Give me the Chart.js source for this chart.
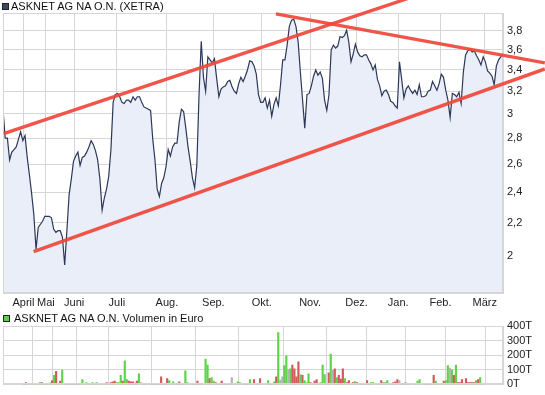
<!DOCTYPE html>
<html>
<head>
<meta charset="utf-8">
<title>ASKNET AG NA O.N. (XETRA)</title>
<script src="https://cdn.jsdelivr.net/npm/chart.js@4.4.1/dist/chart.umd.min.js"></script>
<style>
  body { margin: 0; background: #fff; }
  #wrap { position: relative; width: 545px; height: 395px; overflow: hidden; font-family: "Liberation Sans", Arial, sans-serif; }
  #price-chart { position: absolute; left: 0; top: 0; }
  #volume-chart { position: absolute; left: 0; top: 310px; }
  .box { position: absolute; width: 5px; height: 5px; border: 1px solid #222; }
  .label { position: absolute; font-size: 11px; line-height: 13px; color: #111; white-space: nowrap; }
</style>
</head>
<body>
<div id="wrap">
  <canvas id="price-chart" width="545" height="310"></canvas>
  <canvas id="volume-chart" width="545" height="85"></canvas>
  <div class="box" style="left:2px; top:3px; background:#3d4663;"></div>
  <div class="label" style="left:11px; top:0px;">ASKNET AG NA O.N. (XETRA)</div>
  <div class="box" style="left:3px; top:315px; background:#5cd048;"></div>
  <div class="label" style="left:14px; top:312px;">ASKNET AG NA O.N. Volumen in Euro</div>
</div>
<script>
// Month labels and the trading day (index) where each month starts
const monthLabels = ["April", "Mai", "Juni", "Juli", "Aug.", "Sep.", "Okt.", "Nov.", "Dez.", "Jan.", "Feb.", "März"];
const monthTickDays = [9.3, 19.5, 32.3, 51.7, 74.4, 95.5, 117.5, 139.4, 160.5, 179.4, 198.6, 218.7];

// Price axis (log scale) and volume axis ticks
const priceTicks = [2, 2.2, 2.4, 2.6, 2.8, 3, 3.2, 3.4, 3.6, 3.8];
const volumeTicks = [0, 100, 200, 300, 400];

// Daily closing prices (EUR), one per trading day
const closePrices = [
  3.04, 2.80, 2.80, 2.63, 2.69, 2.71, 2.73, 2.79, 2.85, 2.78,
  2.82, 2.65, 2.52, 2.39, 2.25, 2.04, 2.17, 2.19, 2.21, 2.24,
  2.24, 2.24, 2.23, 2.16, 2.14, 2.15, 2.15, 2.11, 1.95, 2.15,
  2.38, 2.49, 2.62, 2.66, 2.69, 2.59, 2.65, 2.66, 2.69, 2.73,
  2.78, 2.75, 2.70, 2.63, 2.49, 2.28, 2.36, 2.42, 2.51, 2.71,
  3.10, 3.17, 3.18, 3.15, 3.10, 3.09, 3.12, 3.12, 3.10, 3.15,
  3.12, 3.15, 3.15, 3.10, 3.06, 3.05, 3.04, 3.03, 2.79, 2.63,
  2.42, 2.37, 2.46, 2.50, 2.58, 2.71, 2.66, 2.73, 2.76, 2.76,
  2.93, 3.04, 3.02, 2.88, 2.73, 2.62, 2.50, 2.43, 2.59, 3.17,
  3.69, 3.33, 3.20, 3.53, 3.50, 3.47, 3.51, 3.32, 3.15, 3.22,
  3.24, 3.25, 3.29, 3.30, 3.24, 3.20, 3.18, 3.27, 3.33, 3.29,
  3.34, 3.40, 3.49, 3.48, 3.44, 3.36, 3.17, 3.10, 3.10, 3.14,
  3.05, 3.12, 2.98, 3.08, 3.14, 3.07, 3.26, 3.50, 3.50, 3.65,
  3.85, 3.92, 3.93, 3.85, 3.68, 3.38, 3.12, 2.88, 3.17, 3.18,
  3.25, 3.34, 3.40, 3.35, 3.38, 3.32, 3.12, 3.03, 3.17, 3.60,
  3.65, 3.62, 3.64, 3.74, 3.73, 3.75, 3.81, 3.68, 3.48, 3.56,
  3.66, 3.58, 3.54, 3.53, 3.55, 3.55, 3.50, 3.46, 3.40, 3.45,
  3.31, 3.25, 3.16, 3.20, 3.21, 3.17, 3.11, 3.10, 3.07, 3.05,
  3.48, 3.31, 3.14, 3.22, 3.25, 3.21, 3.18, 3.21, 3.17, 3.26,
  3.15, 3.15, 3.16, 3.20, 3.21, 3.29, 3.25, 3.21, 3.27, 3.36,
  3.33, 3.21, 3.12, 2.97, 3.18, 3.17, 3.15, 3.19, 3.09, 3.38,
  3.55, 3.59, 3.61, 3.58, 3.59, 3.54, 3.50, 3.45, 3.53, 3.48,
  3.39, 3.37, 3.34, 3.26, 3.44, 3.50, 3.53, 3.57
];

// Daily volume in thousand Euro (T)
const volumeT = [
  0, 13, 0, 7, 7, 7, 7, 7, 13, 13,
  0, 7, 7, 9, 27, 62, 89, 7, 22, 98,
  7, 0, 7, 7, 7, 0, 0, 7, 7, 33,
  7, 13, 0, 7, 13, 7, 13, 7, 7, 7,
  7, 13, 7, 13, 18, 22, 13, 13, 62, 22,
  162, 33, 22, 18, 18, 9, 22, 73, 13, 7,
  0, 7, 7, 0, 7, 7, 0, 7, 51, 7,
  0, 40, 27, 0, 18, 0, 0, 18, 0, 0,
  93, 13, 0, 7, 7, 7, 22, 7, 7, 7,
  173, 133, 40, 47, 22, 13, 7, 7, 22, 0,
  0, 0, 0, 47, 0, 7, 18, 13, 7, 0,
  0, 0, 33, 0, 33, 7, 7, 40, 7, 7,
  7, 27, 7, 7, 18, 51, 355, 29, 51, 129,
  195, 100, 107, 133, 107, 51, 155, 67, 62, 27,
  13, 73, 13, 7, 22, 33, 7, 13, 133, 67,
  7, 80, 207, 96, 107, 47, 62, 36, 107, 40,
  13, 27, 7, 13, 20, 13, 0, 0, 7, 0,
  27, 0, 13, 13, 7, 7, 7, 27, 13, 13,
  27, 0, 7, 13, 18, 33, 27, 0, 0, 13,
  0, 0, 7, 0, 0, 22, 33, 7, 7, 0,
  7, 7, 7, 62, 22, 7, 0, 7, 22, 27,
  129, 111, 100, 62, 133, 13, 13, 33, 7, 40,
  13, 13, 13, 13, 27, 33, 47, 0
];

// Day direction for the volume bars: g = up, r = down, n = unchanged, - = no trade
const volumeDir = (
  "-r-gggrggr" + "-rgrrgrrrg" + "g-rrr--rrg" + "gg-rgrgrgg" + "rrgrrrgggr" +
  "ggrrrrrgnr" + "-gg-rr-rrr" + "-rg-g--r--" + "gg-rrrrrrg" + "ggrggrrrr-" +
  "---n-rggg-" + "--g-rrrrnn" + "ngrrgrgnng" + "gngrrrrgrg" + "ggrrrrgggg" +
  "rrgnrgrrrg" + "rrgrgr--g-" + "r-ggnrrrgg" + "g-rrrrn--g" + "--n--ggrr-" +
  "rrrrgr-nrg" + "gngrgrrrgr" + "rrrrgrg-"
).split("");

// Trend lines: [trading day, price] end points
const trendUpper = [[0.3, 2.835], [185, 4.18]];
const trendLower = [[13.9, 2.025], [246, 3.41]];
const trendFalling = [[123.9, 3.99], [246, 3.47]];

const gridColor = "#d6d6d6";
const dirColors = { g: "#5fd24a", r: "#d25a5a", n: "#b4b4b4", "-": "#b4b4b4" };

Chart.defaults.font.family = "'Liberation Sans', Arial, sans-serif";
Chart.defaults.font.size = 11;
Chart.defaults.color = "#222";

// Draw the plot frame on all four sides
const framePlugin = {
    id: "frame",
    afterDraw(chart) {
        const a = chart.chartArea;
        const ctx = chart.ctx;
        ctx.save();
        ctx.strokeStyle = gridColor;
        ctx.lineWidth = 1;
        ctx.strokeRect(Math.round(a.left) + 0.5, Math.round(a.top) + 0.5,
            Math.round(a.right - a.left) - 1, Math.round(a.bottom - a.top) - 1);
        ctx.restore();
    }
};

// Red trend lines, drawn through the chart scales, not clipped to the plot
const trendPlugin = {
    id: "trendLines",
    afterDraw(chart) {
        const xs = chart.scales.x;
        const ys = chart.scales.y;
        const ctx = chart.ctx;
        ctx.save();
        ctx.strokeStyle = "rgba(240, 70, 58, 0.92)";
        ctx.lineWidth = 3.4;
        ctx.lineCap = "butt";
        [trendUpper, trendLower, trendFalling].forEach(line => {
            ctx.beginPath();
            ctx.moveTo(xs.getPixelForValue(line[0][0]), ys.getPixelForValue(line[0][1]));
            ctx.lineTo(xs.getPixelForValue(line[1][0]), ys.getPixelForValue(line[1][1]));
            ctx.stroke();
        });
        ctx.restore();
    }
};

const lastDay = closePrices.length - 1;

// Price chart
new Chart(document.getElementById("price-chart"), {
    type: "line",
    data: {
        datasets: [{
            data: closePrices.map((v, i) => ({ x: i, y: v })),
            borderColor: "#2d3858",
            borderWidth: 1.2,
            backgroundColor: "#e9eef8",
            fill: "start",
            pointRadius: 0,
            tension: 0
        }]
    },
    options: {
        responsive: false,
        animation: false,
        layout: { padding: { left: 3, top: 13, right: 0, bottom: 0 } },
        plugins: { legend: { display: false }, tooltip: { enabled: false } },
        scales: {
            x: {
                type: "linear",
                bounds: "data",
                min: 0,
                max: lastDay,
                afterBuildTicks: s => { s.ticks = monthTickDays.map(v => ({ value: v })); },
                afterFit: s => { s.height = 17; },
                grid: { color: gridColor, drawTicks: false },
                border: { color: gridColor },
                ticks: { autoSkip: false, maxRotation: 0, padding: 3, callback: (v, i) => monthLabels[i] }
            },
            y: {
                type: "logarithmic",
                position: "right",
                bounds: "data",
                min: 1.8,
                max: 4.0,
                afterBuildTicks: s => { s.ticks = priceTicks.map(v => ({ value: v })); },
                afterFit: s => { s.width = 42; },
                grid: { color: gridColor, drawTicks: false },
                border: { color: gridColor },
                ticks: { autoSkip: false, padding: 4, callback: v => String(v).replace(".", ",") }
            }
        }
    },
    plugins: [framePlugin, trendPlugin]
});

// Volume chart
new Chart(document.getElementById("volume-chart"), {
    type: "bar",
    data: {
        datasets: [{
            data: volumeT.map((v, i) => ({ x: i, y: v })),
            backgroundColor: volumeDir.map(d => dirColors[d]),
            barThickness: 1.5
        }]
    },
    options: {
        responsive: false,
        animation: false,
        layout: { padding: { left: 3, top: 16, right: 0, bottom: 0 } },
        plugins: { legend: { display: false }, tooltip: { enabled: false } },
        scales: {
            x: {
                type: "linear",
                bounds: "data",
                min: 0,
                max: lastDay,
                afterBuildTicks: s => { s.ticks = monthTickDays.map(v => ({ value: v })); },
                afterFit: s => { s.height = 9; },
                grid: { color: gridColor, drawTicks: false },
                border: { color: gridColor },
                ticks: { display: false }
            },
            y: {
                position: "right",
                min: 0,
                max: 400,
                afterBuildTicks: s => { s.ticks = volumeTicks.map(v => ({ value: v })); },
                afterFit: s => { s.width = 42; },
                grid: { color: gridColor, drawTicks: false },
                border: { color: gridColor },
                ticks: { autoSkip: false, padding: 4, callback: v => v + "T" }
            }
        }
    },
    plugins: [framePlugin]
});
</script>
</body>
</html>
